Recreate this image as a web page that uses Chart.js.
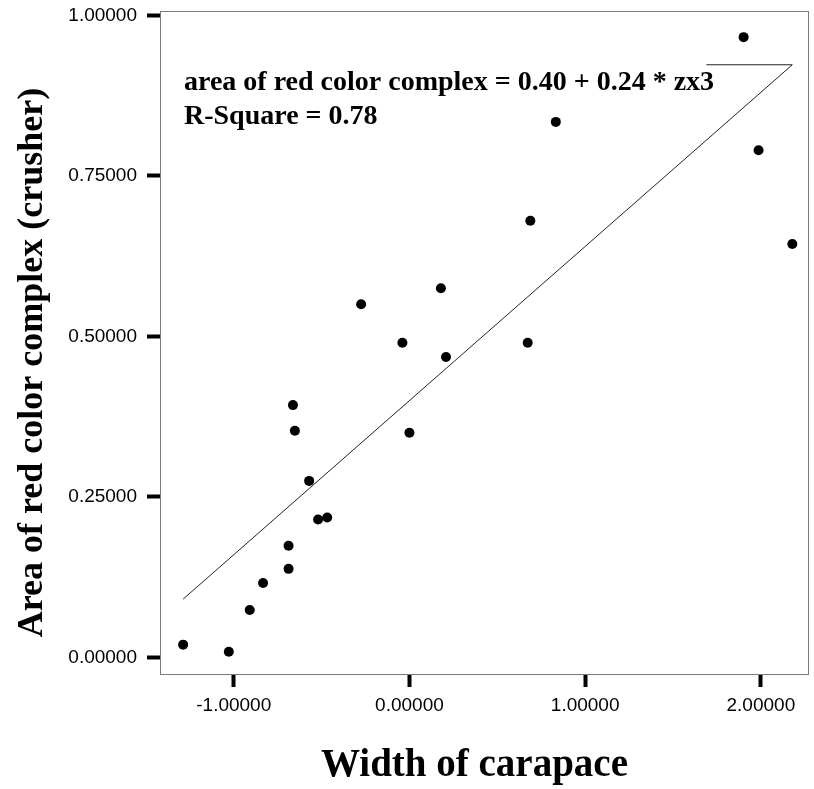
<!DOCTYPE html>
<html>
<head>
<meta charset="utf-8">
<script src="https://cdn.jsdelivr.net/npm/chart.js@4.4.1/dist/chart.umd.min.js"></script>
<style>
  html, body { margin: 0; padding: 0; background: #fff; }
  canvas { display: block; }
</style>
</head>
<body>
<canvas id="scatterChart" width="814" height="789"></canvas>
<script>
// Width of carapace (standardised, zx3)
const widthValues = [-1.288, -1.028, -0.909, -0.833, -0.688, -0.688, -0.520, -0.468, -0.571, -0.652, -0.663,
    -0.275, -0.040, 0.000, 0.179, 0.208, 0.673, 0.688, 0.833, 1.902, 1.987, 2.179];
// Area of red color complex on the crusher claw
const areaValues = [0.020, 0.009, 0.074, 0.116, 0.138, 0.174, 0.215, 0.218, 0.275, 0.353, 0.393,
    0.550, 0.490, 0.350, 0.575, 0.468, 0.490, 0.680, 0.834, 0.966, 0.790, 0.644];

const xTicks = [-1, 0, 1, 2];
const yTicks = [0, 0.25, 0.5, 0.75, 1];

const xTitle = 'Width of carapace';
const yTitle = 'Area of red color complex (crusher)';

// Linear fit reported by the regression
const intercept = 0.40;
const slope = 0.24;
const rSquare = 0.78;
// the fit line doubles back horizontally at its top end
const fitTailX = 1.69;

const serif = "'Liberation Serif', 'Times New Roman', serif";
const sans = "'Liberation Sans', Arial, sans-serif";

function fitAt(x) {
    return intercept + slope * x;
}

function buildFitLine() {
    const xMin = Math.min(...widthValues);
    const xMax = Math.max(...widthValues);
    return [
        { x: xMin, y: fitAt(xMin) },
        { x: xMax, y: fitAt(xMax) },
        { x: fitTailX, y: fitAt(xMax) }
    ];
}

// Gray frame round the plot area, equation text and the axis titles
const framePlugin = {
    id: 'frame',
    beforeDatasetsDraw(chart) {
        const { ctx, chartArea: a } = chart;
        ctx.save();
        ctx.strokeStyle = '#7a7a7a';
        ctx.lineWidth = 1;
        ctx.strokeRect(a.left + 0.5, a.top + 0.5, a.right - a.left - 1, a.bottom - a.top);
        ctx.restore();
    },
    afterDraw(chart) {
        const { ctx, chartArea: a } = chart;
        ctx.save();
        ctx.fillStyle = '#000';
        ctx.font = 'bold 28px ' + serif;
        ctx.textBaseline = 'alphabetic';
        ctx.textAlign = 'left';
        ctx.fillText('area of red color complex = ' + intercept.toFixed(2) + ' + ' + slope.toFixed(2) + ' * zx3',
            a.left + 24, a.top + 79);
        ctx.fillText('R-Square = ' + rSquare.toFixed(2), a.left + 24, a.top + 113);

        ctx.textAlign = 'center';
        ctx.textBaseline = 'middle';
        ctx.font = 'bold 39px ' + serif;
        ctx.fillText(xTitle, a.left + (a.right - a.left) / 2 - 10, chart.height - 23);

        ctx.font = 'bold 36px ' + serif;
        ctx.translate(33, (a.top + a.bottom) / 2 + 20);
        ctx.rotate(-Math.PI / 2);
        ctx.fillText(yTitle, 0, 0);
        ctx.restore();
    }
};

function drawScatter() {
    const ctx = document.getElementById('scatterChart').getContext('2d');
    const points = widthValues.map((x, i) => ({ x: x, y: areaValues[i] }));

    new Chart(ctx, {
        type: 'scatter',
        data: {
            datasets: [{
                data: buildFitLine(),
                showLine: true,
                borderColor: '#222',
                borderWidth: 1,
                pointRadius: 0,
                fill: false
            }, {
                data: points,
                backgroundColor: '#000',
                borderColor: '#000',
                pointRadius: 5,
                pointBorderWidth: 0
            }]
        },
        options: {
            responsive: false,
            animation: false,
            layout: {
                padding: { top: 11, right: 1, left: 0, bottom: 0 }
            },
            plugins: {
                legend: { display: false },
                tooltip: { enabled: false }
            },
            scales: {
                x: {
                    type: 'linear',
                    min: -1.4197,
                    max: 2.274,
                    afterBuildTicks: scale => { scale.ticks = xTicks.map(v => ({ value: v })); },
                    afterFit: scale => {
                        scale.height = 115;
                        scale.paddingLeft = 0;
                        scale.paddingRight = 0;
                    },
                    border: { display: false },
                    grid: {
                        drawOnChartArea: false,
                        drawTicks: true,
                        tickLength: 13,
                        tickWidth: 4,
                        tickColor: '#000'
                    },
                    ticks: {
                        padding: 7,
                        color: '#000',
                        font: { family: sans, size: 19 },
                        callback: v => v.toFixed(5)
                    }
                },
                y: {
                    type: 'linear',
                    min: -0.0257,
                    max: 1.0067,
                    afterBuildTicks: scale => { scale.ticks = yTicks.map(v => ({ value: v })); },
                    afterFit: scale => {
                        scale.width = 160;
                        scale.paddingTop = 0;
                        scale.paddingBottom = 0;
                    },
                    border: { display: false },
                    grid: {
                        drawOnChartArea: false,
                        drawTicks: true,
                        tickLength: 13,
                        tickWidth: 4,
                        tickColor: '#000'
                    },
                    ticks: {
                        padding: 10,
                        color: '#000',
                        font: { family: sans, size: 19 },
                        callback: v => v.toFixed(5)
                    }
                }
            }
        },
        plugins: [framePlugin]
    });
}

document.addEventListener('DOMContentLoaded', drawScatter);
</script>
</body>
</html>
